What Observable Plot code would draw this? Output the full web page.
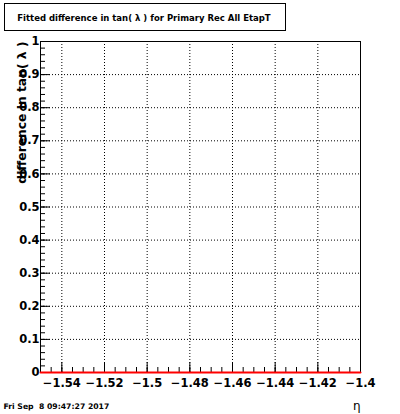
<!DOCTYPE html>
<html><head><meta charset="utf-8">
<script src="https://cdn.jsdelivr.net/npm/d3@7"></script>
<script src="https://cdn.jsdelivr.net/npm/@observablehq/plot@0.6"></script>
<style>body{margin:0;background:#fff} svg{white-space:pre}</style>
</head><body><div id="chart"></div>
<script>
const title = "Fitted difference in tan( \u03BB ) for Primary Rec All EtapT";
const yLabel = "difference in tan( \u03BB )";
const xLabel = "\u03B7";
const dateText = "Fri Sep  8 09:47:27 2017";
const xDomain = [-1.55, -1.4];
const yDomain = [0, 1];
const xMajorTicks = [-1.54, -1.52, -1.5, -1.48, -1.46, -1.44, -1.42, -1.4];
const xTickLabels = ["\u22121.54", "\u22121.52", "\u22121.5", "\u22121.48", "\u22121.46", "\u22121.44", "\u22121.42", "\u22121.4"];
const yMajorTicks = [0, 0.1, 0.2, 0.3, 0.4, 0.5, 0.6, 0.7, 0.8, 0.9, 1];
const yTickLabels = ["0", "0.1", "0.2", "0.3", "0.4", "0.5", "0.6", "0.7", "0.8", "0.9", "1"];
const binEdges = [-1.55, -1.54, -1.53, -1.52, -1.51, -1.5, -1.49, -1.48, -1.47, -1.46, -1.45, -1.44, -1.43, -1.42, -1.41, -1.4];
const binValues = [0, 0, 0, 0, 0, 0, 0, 0, 0, 0, 0, 0, 0, 0, 0];

const xMinorTicks = d3.range(0, 31).map(i => -1.55 + i * 0.005);
const yMinorTicks = d3.range(0, 51).map(i => i * 0.02);

const W = 400, H = 414, mL = 40, mR = 40, mT = 41, mB = 42;
const pw = W - mL - mR, ph = H - mT - mB;
const font = "'DejaVu Sans', Arial, Helvetica, sans-serif";

const hist = binEdges.map((e, i) => ({x: e, y: binValues[Math.min(i, binValues.length - 1)]}));

const chart = Plot.plot({
  width: W, height: H,
  marginLeft: mL, marginRight: mR, marginTop: mT, marginBottom: mB,
  x: {domain: xDomain},
  y: {domain: yDomain},
  style: {fontFamily: font, background: "white", color: "black"},
  marks: [
    Plot.gridX(xMajorTicks, {stroke: "black", strokeOpacity: 1, strokeDasharray: "1,2"}),
    Plot.gridY(yMajorTicks, {stroke: "black", strokeOpacity: 1, strokeDasharray: "1,2"}),
    Plot.frame({stroke: "black", strokeWidth: 1}),
    Plot.tickY(yMajorTicks, {y: d => d, insetRight: pw - 10, stroke: "black"}),
    Plot.tickY(yMinorTicks, {y: d => d, insetRight: pw - 5, stroke: "black"}),
    Plot.tickX(xMajorTicks, {x: d => d, insetTop: ph - 10, stroke: "black"}),
    Plot.tickX(xMinorTicks, {x: d => d, insetTop: ph - 5, stroke: "black"}),
    Plot.axisX(xMajorTicks, {tickSize: 0, tickPadding: 6, tickFormat: d => xTickLabels[xMajorTicks.indexOf(d)], fontSize: 11.5, fontWeight: "bold", label: null}),
    Plot.axisY(yMajorTicks, {tickSize: 0, tickPadding: 1, tickFormat: d => yTickLabels[yMajorTicks.indexOf(d)], fontSize: 11.5, fontWeight: "bold", label: null}),
    Plot.line(hist, {x: "x", y: "y", curve: "step-after", stroke: "#ff0000", strokeWidth: 2}),
    Plot.text([yLabel], {frameAnchor: "top-left", rotate: -90, textAnchor: "end", dx: -23, fontSize: 12.3, fontWeight: "bold"}),
    Plot.text([xLabel], {frameAnchor: "bottom-right", textAnchor: "end", lineAnchor: "bottom", dy: 37, fontSize: 12}),
    Plot.text([dateText], {frameAnchor: "bottom-left", textAnchor: "start", lineAnchor: "bottom", dx: -37, dy: 36, fontSize: 7.7, fontWeight: "bold"})
  ]
});

const svg = d3.select(chart);
svg.append("rect").attr("x", 4.5).attr("y", 3.5).attr("width", 281).attr("height", 27)
  .attr("fill", "white").attr("stroke", "black");
svg.append("text").attr("x", 144).attr("y", 18).attr("text-anchor", "middle")
  .attr("dominant-baseline", "central").attr("font-size", 8.5).attr("font-weight", "bold")
  .attr("font-family", font).text(title);

document.getElementById("chart").appendChild(chart);
</script>
</body></html>
